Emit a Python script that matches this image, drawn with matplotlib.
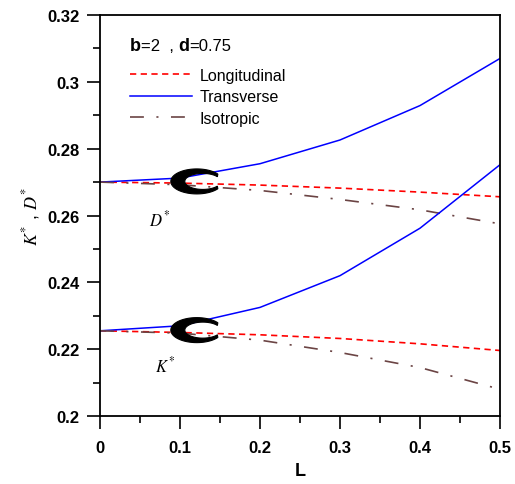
import numpy as np
import matplotlib
matplotlib.use("Agg")
import matplotlib.pyplot as plt
from matplotlib.patches import Polygon
from matplotlib.ticker import MultipleLocator

plt.rcParams['font.family'] = ['Liberation Sans', 'DejaVu Sans']
plt.rcParams['lines.scale_dashes'] = False

# data
L = [0.0, 0.1, 0.2, 0.3, 0.4, 0.5]
D_long = [0.2700, 0.2697, 0.2691, 0.2682, 0.2670, 0.2656]
D_trans = [0.2700, 0.2712, 0.2755, 0.2826, 0.2929, 0.3070]
D_iso = [0.2700, 0.2692, 0.2675, 0.2648, 0.2617, 0.2575]
K_long = [0.2255, 0.2250, 0.2243, 0.2232, 0.2216, 0.2196]
K_trans = [0.2255, 0.2270, 0.2325, 0.2420, 0.2562, 0.2752]
K_iso = [0.2255, 0.2248, 0.2227, 0.2190, 0.2145, 0.2080]

labels = ['Longitudinal', 'Transverse', 'Isotropic']
c_marks = [(0.121, 0.2702), (0.121, 0.2257)]

red = '#ff0000'
blue = '#0000ff'
brown = '#6b4444'
dash = (0, (4.5, 3.2))
dashdot = (0, (10, 9, 1.5, 9))

fig = plt.figure(figsize=(5.15, 4.85), dpi=100)
ax = fig.add_axes([0.1942, 0.1402, 0.7767, 0.8268])

l1, = ax.plot(L, D_long, color=red, lw=1.2, ls=dash)
l2, = ax.plot(L, D_trans, color=blue, lw=1.1)
l3, = ax.plot(L, D_iso, color=brown, lw=1.2, ls=dashdot)
ax.plot(L, K_long, color=red, lw=1.2, ls=dash)
ax.plot(L, K_trans, color=blue, lw=1.1)
ax.plot(L, K_iso, color=brown, lw=1.2, ls=dashdot)

ax.set_xlim(0, 0.5)
ax.set_ylim(0.2, 0.32)
ax.xaxis.set_major_locator(MultipleLocator(0.1))
ax.xaxis.set_minor_locator(MultipleLocator(0.05))
ax.yaxis.set_major_locator(MultipleLocator(0.02))
ax.yaxis.set_minor_locator(MultipleLocator(0.01))
ax.xaxis.set_major_formatter(lambda v, p: ('%g' % round(v, 3)))
ax.yaxis.set_major_formatter(lambda v, p: ('%g' % round(v, 3)))

for s in ax.spines.values():
    s.set_linewidth(1.3)
ax.tick_params(which='major', length=9.6, width=1.2, labelsize=12, direction='out')
ax.tick_params(which='minor', length=4.8, width=1.2, direction='out')
ax.tick_params(axis='x', pad=8)
ax.tick_params(axis='y', pad=5)
for t in ax.get_xticklabels() + ax.get_yticklabels():
    t.set_fontweight('bold')

ax.set_xlabel('L', fontsize=13, fontweight='bold', labelpad=5)
ax.set_ylabel(r'$K^{*}$ , $D^{*}$', fontsize=13, math_fontfamily='stix', labelpad=4)

# the "C" brackets grouping the curves
px_x = 800.0   # pixels per data unit (x)
px_y = 3342.0  # pixels per data unit (y)
t = np.radians(np.linspace(36, 324, 90))
for cx, cy in c_marks:
    ox = cx + 26 * np.cos(t) / px_x
    oy = cy + 12.5 * np.sin(t) / px_y
    ix = cx + (6 + 18 * np.cos(t[::-1])) / px_x
    iy = cy + 8 * np.sin(t[::-1]) / px_y
    pts = np.column_stack([np.concatenate([ox, ix]), np.concatenate([oy, iy])])
    ax.add_patch(Polygon(pts, closed=True, facecolor='black', edgecolor='black', lw=0.8, zorder=5))

ax.text(0.075, 0.259, r'$D^{*}$', fontsize=12, math_fontfamily='stix', ha='center', va='center')
ax.text(0.081, 0.2153, r'$K^{*}$', fontsize=12, math_fontfamily='stix', ha='center', va='center')

# header "b=2 , d=0.75"
h1 = ax.text(0.075, 0.925, 'b', transform=ax.transAxes, fontsize=13, fontweight='bold', va='center', ha='left')
h2 = ax.annotate('=2  , ', xy=(1, 0.5), xycoords=h1, fontsize=12, va='center', ha='left')
h3 = ax.annotate('d', xy=(1, 0.5), xycoords=h2, fontsize=13, fontweight='bold', va='center', ha='left')
ax.annotate('=0.75', xy=(1, 0.5), xycoords=h3, fontsize=12, va='center', ha='left')

ax.legend([l1, l2, l3], labels, loc='upper left', bbox_to_anchor=(0.075, 0.868),
          frameon=False, fontsize=11.5, handlelength=3.9, handletextpad=0.45,
          labelspacing=0.4, borderpad=0, borderaxespad=0)

fig.savefig('out.png', dpi=100)
